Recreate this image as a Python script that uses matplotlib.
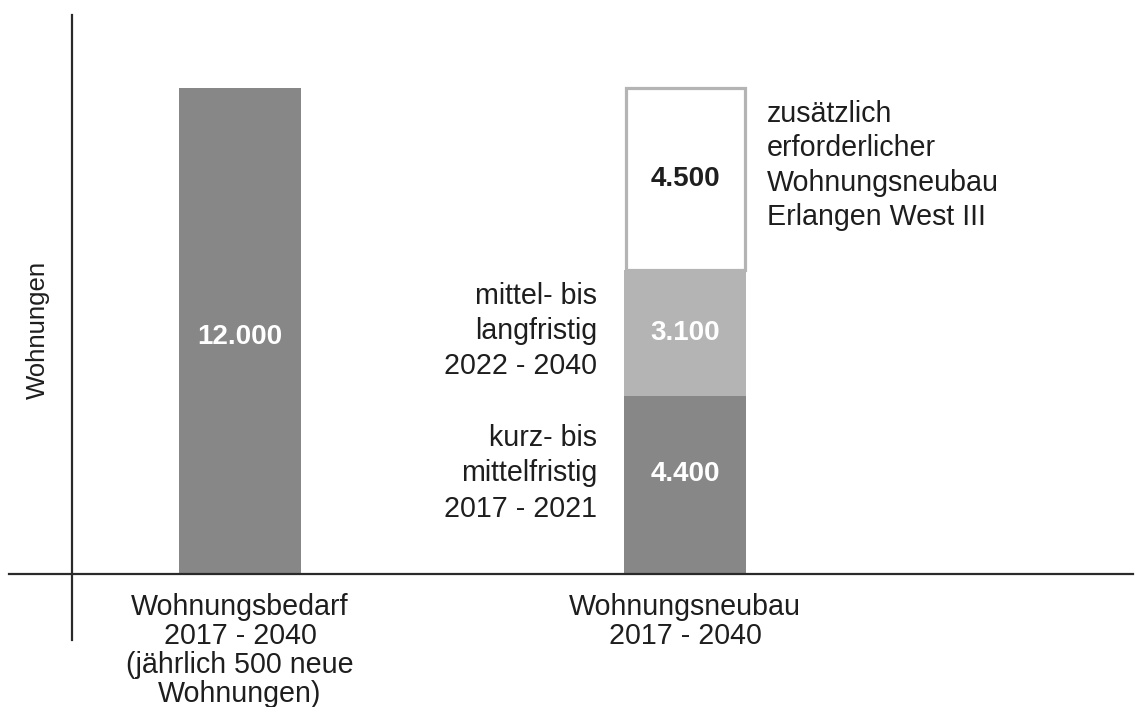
import matplotlib
matplotlib.use("Agg")
import matplotlib.pyplot as plt
from matplotlib.lines import Line2D

plt.rcParams['font.family'] = ['Liberation Sans', 'DejaVu Sans']

# ---- data ----
categories = ["Wohnungsbedarf\n2017 - 2040\n(jährlich 500 neue\nWohnungen)",
              "Wohnungsneubau\n2017 - 2040"]
bedarf_total = 12000
neubau_values = [4400, 3100, 4500]
neubau_value_labels = ["4.400", "3.100", "4.500"]
bedarf_label = "12.000"
segment_labels = ["kurz- bis\nmittelfristig\n2017 - 2021",
                  "mittel- bis\nlangfristig\n2022 - 2040",
                  "zusätzlich\nerforderlicher\nWohnungsneubau\nErlangen West III"]
y_axis_label = "Wohnungen"

W, H = 1136, 707
fig = plt.figure(figsize=(W / 100, H / 100), dpi=100)
fig.patch.set_facecolor('white')

# axes: x from px 72 to 1133, y from px 574 (zero) to px 15
ax = fig.add_axes([72 / W, (H - 574) / H, (1133 - 72) / W, (574 - 15) / H])
ax.set_facecolor('none')
ymax = bedarf_total * (574 - 15) / (574 - 88)
ax.set_ylim(0, ymax)
ax.set_xlim(-(240 - 72) / 445, (1133 - 240) / 445)

dark = '#878787'
light = '#b4b4b4'
txt = '#1e1e1e'
bw = 122 / 445

# bars
ax.bar(0, bedarf_total, width=bw, color=dark, linewidth=0)
colors = [dark, light, 'white']
bottom = 0
seg_bottoms = []
for v, c in zip(neubau_values, colors):
    seg_bottoms.append(bottom)
    if c == 'white':
        ax.bar(1, v, bottom=bottom, width=bw - 3 / 445, color='white',
               edgecolor=light, linewidth=2.3)
    else:
        ax.bar(1, v, bottom=bottom, width=bw, color=c, linewidth=0)
    bottom += v

fs = 20.6
vfs = 20
# value labels
ax.text(0, bedarf_total * 0.5 - 150, bedarf_label, ha='center', va='center',
        color='white', fontsize=vfs, fontweight='bold')
label_frac = [0.56, 0.5, 0.5]
label_colors = ['white', 'white', txt]
for b, v, lab, fr, lc in zip(seg_bottoms, neubau_values, neubau_value_labels,
                             label_frac, label_colors):
    ax.text(1, b + v * fr, lab, ha='center', va='center', color=lc,
            fontsize=vfs, fontweight='bold')

# side labels
side_x_left = (597 - 240) / 445
ax.text(side_x_left, seg_bottoms[0] + neubau_values[0] * 0.564, segment_labels[0],
        ha='right', va='center', fontsize=fs, color=txt, linespacing=1.33)
ax.text(side_x_left, seg_bottoms[1] + neubau_values[1] * 0.516, segment_labels[1],
        ha='right', va='center', fontsize=fs, color=txt, linespacing=1.33)
ax.text((767 - 240) / 445, seg_bottoms[2] + neubau_values[2] * 0.575, segment_labels[2],
        ha='left', va='center', fontsize=fs, color=txt, linespacing=1.29)

# x tick labels
ax.set_xticks([0, 1])
ax.set_xticklabels(categories, fontsize=fs, color=txt)
for t in ax.get_xticklabels():
    t.set_linespacing(1.05)
ax.tick_params(axis='x', length=0, pad=13.5)
ax.set_yticks([])
for s in ax.spines.values():
    s.set_visible(False)

# axis lines
fig.add_artist(Line2D([72 / W, 72 / W], [1 - 15 / H, 1 - 640 / H],
                      transform=fig.transFigure, color='#2a2a2a', lw=1.6))
fig.add_artist(Line2D([9 / W, 1133 / W], [1 - 574 / H, 1 - 574 / H],
                      transform=fig.transFigure, color='#2a2a2a', lw=1.6))

fig.text(38 / W, 1 - 330 / H, y_axis_label, rotation=90, ha='center', va='center',
         fontsize=18.5, color=txt)

fig.savefig('out.png', dpi=100, facecolor='white')
